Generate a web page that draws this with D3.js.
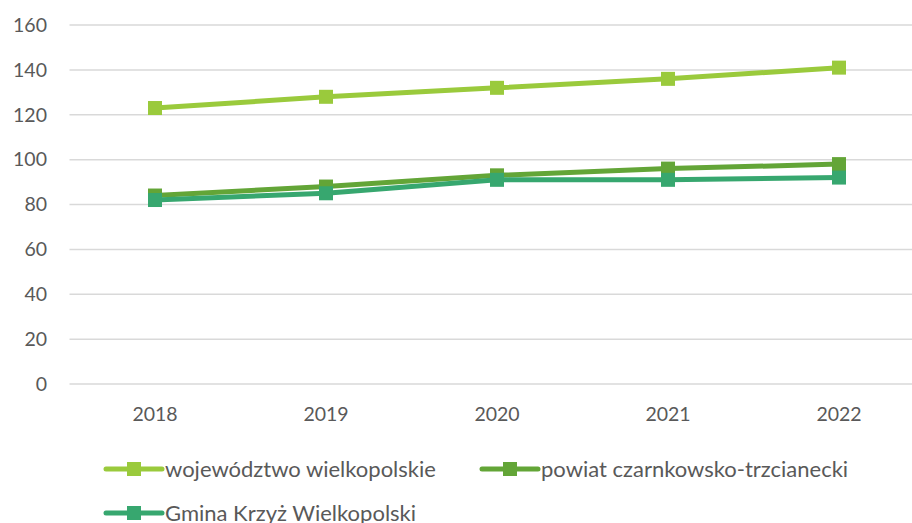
<!DOCTYPE html>
<html><head><meta charset="utf-8">
<script src="https://cdn.jsdelivr.net/npm/d3@7"></script>
<style>body{margin:0;background:#fff;} svg{display:block;}</style>
</head><body>
<svg id="c" width="912" height="523"></svg>
<script>
const years = ["2018","2019","2020","2021","2022"];
const wojewodztwo = [123,128,132,136,141];
const powiat = [84,88,93,96,98];
const gmina = [82,85,91,91,92];
const yTicks = [0,20,40,60,80,100,120,140,160];
const seriesNames = ["województwo wielkopolskie","powiat czarnkowsko-trzcianecki","Gmina Krzyż Wielkopolski"];
const seriesColors = ["#9ACA3C","#63A537","#37A76F"];

(function(){
const series = [wojewodztwo, powiat, gmina].map((v,i)=>({name:seriesNames[i], color:seriesColors[i], values:v}));
const svg = d3.select("#c");
const font = "Lato, 'Open Sans', sans-serif";
const plotLeft = 69.5, bandW = 171, plotTop = 25, plotBottom = 384;
const x = d3.scaleBand().domain(years).range([plotLeft, plotLeft + bandW*years.length]);
const y = d3.scaleLinear().domain([0,160]).range([plotBottom, plotTop]);

const g = svg.append("g");
g.selectAll("line.grid").data(yTicks).join("line")
  .attr("x1", plotLeft).attr("x2", 912).attr("y1", d=>y(d)).attr("y2", d=>y(d))
  .attr("stroke", "#d9d9d9").attr("stroke-width", 1.5);
g.selectAll("text.yl").data(yTicks).join("text")
  .attr("x", 47).attr("y", d=>y(d)).attr("dy","0.35em").attr("text-anchor","end")
  .attr("font-family", font).attr("font-size", 19.5).attr("fill","#595959").text(d=>d);
g.selectAll("text.xl").data(years).join("text")
  .attr("x", d=>x(d)+x.bandwidth()/2).attr("y", 414).attr("dy","0.35em").attr("text-anchor","middle")
  .attr("font-family", font).attr("font-size", 19.5).attr("fill","#595959").text(d=>d);

const line = d3.line().x((d,i)=>x(years[i])+x.bandwidth()/2).y(d=>y(d));
series.forEach(s=>{
  g.append("path").attr("d", line(s.values)).attr("fill","none")
   .attr("stroke", s.color).attr("stroke-width", 5).attr("stroke-linejoin","round");
  g.selectAll(null).data(s.values).join("rect")
   .attr("x",(d,i)=>x(years[i])+x.bandwidth()/2-7).attr("y",d=>y(d)-7)
   .attr("width",14).attr("height",14).attr("fill", s.color);
});

const legendPos = [[106,469],[482,469],[106,513]];
series.forEach((s,i)=>{
  const [lx,ly] = legendPos[i];
  const lg = svg.append("g");
  lg.append("line").attr("x1",lx).attr("x2",lx+56).attr("y1",ly).attr("y2",ly)
    .attr("stroke",s.color).attr("stroke-width",5).attr("stroke-linecap","round");
  lg.append("rect").attr("x",lx+28-7).attr("y",ly-7).attr("width",14).attr("height",14).attr("fill",s.color);
  lg.append("text").attr("x",lx+59).attr("y",ly).attr("dy","0.35em")
    .attr("font-family",font).attr("font-size",22).attr("fill","#595959").text(s.name);
});
})();
</script>
</body></html>
